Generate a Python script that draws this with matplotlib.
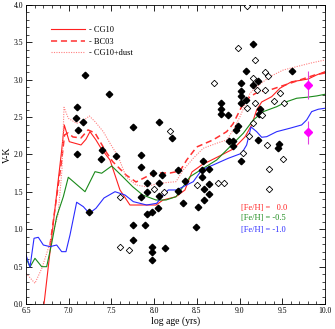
import matplotlib
matplotlib.use("Agg")
import matplotlib.pyplot as plt

plt.rcParams['font.family'] = ['Liberation Serif', 'DejaVu Serif']

# clusters, filled diamonds
fill_age = [7.194, 7.468, 7.097, 7.089, 7.164, 7.109, 7.756, 8.053, 7.100, 7.386,
            7.381, 7.553, 7.846, 7.846, 8.213, 9.154, 9.075, 9.610, 9.020, 9.216,
            9.154, 9.020, 9.017, 9.075, 9.017, 8.783, 8.786, 8.779, 8.864, 9.243,
            9.227, 8.985, 8.955, 9.216, 8.876, 8.927, 8.927, 9.458, 9.450, 9.013,
            8.568, 8.646, 8.279, 7.237, 7.756, 7.756, 7.852, 7.913, 7.922, 7.893,
            7.913, 7.983, 8.053, 8.053, 8.092, 8.045, 7.978, 7.978, 7.978, 7.978,
            8.131, 8.361, 8.283, 8.338, 8.560, 8.560, 8.648, 8.584, 8.645, 8.580,
            8.510, 8.493]
fill_vk = [3.060, 2.809, 2.631, 2.484, 2.431, 2.328, 2.368, 2.431, 2.007, 2.064,
           1.940, 1.973, 1.989, 1.829, 2.225, 3.478, 3.117, 3.117, 2.961, 2.979,
           2.926, 2.854, 2.779, 2.729, 2.685, 2.685, 2.609, 2.546, 2.524, 2.609,
           2.546, 2.381, 2.332, 2.198, 2.185, 2.185, 2.114, 2.144, 2.083, 1.913,
           1.913, 1.802, 1.793, 1.231, 1.057, 0.856, 1.427, 1.615, 1.502, 1.057,
           1.204, 1.757, 1.619, 1.438, 1.726, 1.284, 1.227, 0.767, 0.692, 0.595,
           0.745, 1.650, 1.512, 1.355, 1.786, 1.699, 1.605, 1.542, 1.472, 1.387,
           1.294, 1.030]

# open diamonds
open_age = [8.182, 9.083, 8.982, 9.181, 9.301, 9.333, 8.701, 9.154, 9.204, 9.301,
            9.181, 9.470, 9.406, 9.520, 9.087, 9.263, 9.157, 9.114, 9.325, 9.044,
            9.512, 9.348, 7.600, 7.600, 7.700, 7.998, 8.121, 8.505, 8.744, 8.821,
            9.348]
open_vk = [2.310, 3.991, 3.421, 3.264, 3.100, 3.046, 2.961, 3.027, 2.867, 2.859,
           2.689, 2.823, 2.712, 2.693, 2.618, 2.532, 2.417, 2.252, 2.127, 2.020,
           1.936, 1.799, 1.435, 0.759, 0.722, 1.538, 1.501, 1.592, 1.615, 1.623,
           1.534]

# magenta points with error bars
mag_age = [9.804, 9.804]
mag_vk = [2.926, 2.297]
mag_err = [0.19, 0.155]

# models
cg10_age = [6.711, 6.918, 6.948, 7.007, 7.144, 7.202, 7.249, 7.319, 7.378, 7.483,
            7.600, 7.717, 8.022, 8.104, 8.256, 8.361, 8.443, 8.557, 8.751, 8.927,
            9.063, 9.142, 9.200, 9.259, 9.376, 9.473, 9.610, 9.707, 9.804, 9.903, 10.0]
cg10_vk = [0.0, 2.06, 2.395, 2.171, 2.127, 2.203, 2.305, 2.194, 2.083, 1.926,
           1.525, 1.324, 1.324, 1.391, 1.435, 1.525, 1.766, 1.860, 1.971, 2.074,
           2.234, 2.395, 2.595, 2.702, 2.773, 2.886, 2.974, 2.990, 3.010, 3.064, 3.108]

bc03_age = [6.781, 6.918, 6.951, 6.992, 7.050, 7.144, 7.226, 7.308, 7.436, 7.515,
            7.671, 7.788, 7.951, 8.069, 8.186, 8.303, 8.381, 8.498, 8.689, 8.849,
            8.923, 9.025, 9.122, 9.216, 9.356, 9.532, 9.707, 9.883, 10.0]
bc03_vk = [0.789, 1.926, 2.261, 2.288, 2.234, 2.221, 2.328, 2.288, 2.037, 1.904,
           1.726, 1.632, 1.726, 1.752, 1.752, 1.779, 1.926, 2.100, 2.194, 2.305,
           2.408, 2.639, 2.773, 2.836, 2.863, 2.930, 2.997, 3.064, 3.090]

dust_age = [6.5, 6.605, 6.687, 6.781, 6.875, 6.921, 6.945, 6.995, 7.093, 7.167,
            7.241, 7.308, 7.405, 7.483, 7.580, 7.671, 7.788, 7.905, 8.060, 8.256,
            8.341, 8.458, 8.575, 8.732, 8.849, 8.927, 9.005, 9.122, 9.200, 9.356,
            9.512, 9.669, 9.824, 10.0]
dust_vk = [0.411, 0.277, 0.482, 0.816, 1.191, 1.793, 2.631, 2.484, 2.417, 2.448,
           2.515, 2.439, 2.305, 2.150, 1.971, 1.703, 1.592, 1.569, 1.615, 1.636,
           1.793, 1.949, 2.083, 2.150, 2.194, 2.328, 2.506, 2.819, 2.907, 3.041,
           3.130, 3.175, 3.220, 3.264]

m05_age = [6.5, 6.547, 6.605, 6.684, 6.742, 6.801, 6.859, 6.937, 6.995, 7.191,
           7.308, 7.386, 7.503, 7.632, 7.749, 7.866, 8.022, 8.139, 8.256, 8.420,
           8.575, 8.732, 8.888, 9.044, 9.161, 9.278, 9.435, 9.552, 9.669, 9.786,
           9.903, 10.0]
m05_vk = [0.615, 0.495, 0.611, 0.499, 0.499, 0.812, 1.168, 1.435, 1.695, 1.502,
          1.770, 1.749, 1.846, 1.703, 1.569, 1.458, 1.391, 1.391, 1.435, 1.703,
          1.815, 1.926, 2.104, 2.284, 2.462, 2.573, 2.639, 2.706, 2.752, 2.765,
          2.783, 2.805]

m10_age = [6.5, 6.547, 6.594, 6.644, 6.703, 6.781, 6.859, 6.918, 6.968, 7.015,
           7.093, 7.171, 7.241, 7.319, 7.413, 7.542, 7.659, 7.756, 7.913, 8.030,
           8.107, 8.166, 8.264, 8.341, 8.458, 8.557, 8.692, 8.868, 9.025, 9.083,
           9.134, 9.200, 9.259, 9.318, 9.435, 9.590, 9.727, 9.786, 9.844, 9.922, 10.0]
m10_vk = [0.655, 0.495, 0.879, 0.892, 0.789, 0.767, 0.789, 0.700, 0.700, 0.923,
          1.361, 1.302, 1.213, 1.280, 1.418, 1.502, 1.458, 1.369, 1.324, 1.347,
          1.458, 1.525, 1.525, 1.569, 1.636, 1.793, 1.860, 1.949, 2.016, 2.127,
          2.368, 2.305, 2.230, 2.238, 2.305, 2.351, 2.395, 2.462, 2.573, 2.605, 2.618]

fig = plt.figure(figsize=(3.35, 3.29), dpi=100)
ax = fig.add_axes([0.0776, 0.076, 0.8925, 0.909])

l1, = ax.plot(cg10_age, cg10_vk, color='#ff2020', lw=0.8, label='- CG10')
l2, = ax.plot(bc03_age, bc03_vk, color='#ff3030', lw=1.1, ls=(0, (4, 2.5)), label='- BC03')
l3, = ax.plot(dust_age, dust_vk, color='#ff8080', lw=0.8, ls=(0, (1, 1.2)), label='- CG10+dust')
ax.plot(m05_age, m05_vk, color='#1a8a1a', lw=0.8)
ax.plot(m10_age, m10_vk, color='#2a2aff', lw=0.8)

ax.plot(fill_age, fill_vk, ls='none', marker='D', ms=3.3, mfc='black', mec='black', zorder=5)
ax.plot(open_age, open_vk, ls='none', marker='D', ms=3.3, mfc='white', mec='black', mew=0.6, zorder=5)
ax.errorbar(mag_age, mag_vk, yerr=mag_err, fmt='D', ms=4.3, color='magenta', ecolor='#e040e0',
            elinewidth=0.8, capsize=0, zorder=6)

ax.legend(handles=[l1, l2, l3], loc='upper left', bbox_to_anchor=(0.06, 0.955), frameon=False,
          fontsize=6, handlelength=4.0, handletextpad=0.5, labelspacing=0.45)

ax.text(9.017, 1.288, '[Fe/H] =   0.0', color='#ff2020', fontsize=6, va='center')
ax.text(9.017, 1.147, '[Fe/H] = -0.5', color='#1a8a1a', fontsize=6, va='center')
ax.text(9.017, 0.990, '[Fe/H] = -1.0', color='#2a2aff', fontsize=6, va='center')

ax.set_xlim(6.5, 10.0)
ax.set_ylim(0.0, 4.0)
ax.set_xticks([6.5, 7.0, 7.5, 8.0, 8.5, 9.0, 9.5, 10.0])
ax.set_yticks([0.0, 0.5, 1.0, 1.5, 2.0, 2.5, 3.0, 3.5, 4.0])
ax.set_xticks([6.5 + 0.1 * i for i in range(36)], minor=True)
ax.set_yticks([0.1 * i for i in range(41)], minor=True)
ax.tick_params(which='both', direction='in', top=True, right=True, labelsize=5.5, pad=2)
ax.tick_params(which='major', length=4, width=0.6)
ax.tick_params(which='minor', length=2, width=0.5)
for s in ax.spines.values():
    s.set_linewidth(0.6)
ax.set_xlabel('log age (yrs)', fontsize=7, labelpad=1)
ax.set_ylabel('V-K', fontsize=7, labelpad=1)

fig.savefig('out.png', dpi=100)
